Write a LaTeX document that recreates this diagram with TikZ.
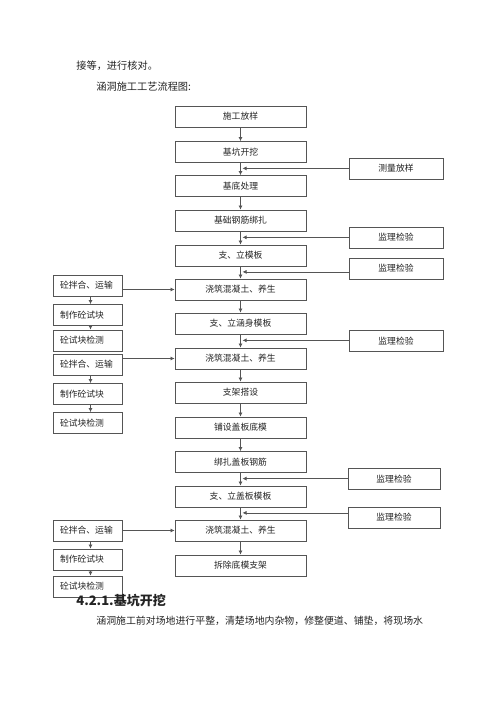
\documentclass[tikz,border=0pt]{standalone}
\usepackage{fontspec}
\newfontfamily\cjk{Noto Sans CJK SC}
\usepackage{tikz}
\usetikzlibrary{positioning}
\usetikzlibrary{arrows.meta}
\usetikzlibrary{shapes}
\definecolor{linegray}{RGB}{85,85,85}
\definecolor{textgray}{RGB}{35,35,35}
\tikzset{
        boxnode/.style={align=center,inner sep=0pt,rectangle,draw=linegray,line width=0.8pt,text=textgray,font=\cjk\fontsize{8.8}{10}\selectfont},
        % Main process steps
        node_step/.style={boxnode, minimum width=131pt, minimum height=21pt},
        % Inspection boxes on the right
        node_check/.style={boxnode, minimum width=94pt, minimum height=21pt},
        % Concrete boxes on the left
        node_mix/.style={boxnode, align=left, inner xsep=7pt, text width=55pt, minimum height=21pt},
        % Plain page text
        node_text/.style={anchor=west, inner sep=0pt, text=textgray, font=\cjk\fontsize{10.2}{12}\selectfont}
}
\begin{document}
\begin{tikzpicture}[
            x=1pt, y=-1pt,
            ->, >={Latex[length=4pt,width=4pt]},
            line width=0.7pt, draw=linegray
        ]
            \useasboundingbox (0,0) rectangle (500,706);
            \node[node_text] (line_top) at (76,66) {接等，进行核对。};
            \node[node_text] (title) at (96,87) {涵洞施工工艺流程图:};

            % main column
            \node[node_step] (step_1) at (240.5,116.5) {施工放样};
            \node[node_step] (step_2) at (240.5,152) {基坑开挖};
            \node[node_step] (step_3) at (240.5,186) {基底处理};
            \node[node_step] (step_4) at (240.5,220.5) {基础钢筋绑扎};
            \node[node_step] (step_5) at (240.5,255.5) {支、立模板};
            \node[node_step] (step_6) at (240.5,289.5) {浇筑混凝土、养生};
            \node[node_step] (step_7) at (240.5,323.5) {支、立涵身模板};
            \node[node_step] (step_8) at (240.5,358.5) {浇筑混凝土、养生};
            \node[node_step] (step_9) at (240.5,392.5) {支架搭设};
            \node[node_step] (step_10) at (240.5,427.5) {铺设盖板底模};
            \node[node_step] (step_11) at (240.5,462) {绑扎盖板钢筋};
            \node[node_step] (step_12) at (240.5,496.5) {支、立盖板模板};
            \node[node_step] (step_13) at (240.5,530.5) {浇筑混凝土、养生};
            \node[node_step] (step_14) at (240.5,565.5) {拆除底模支架};
            \foreach \a/\b in {1/2,2/3,3/4,4/5,5/6,6/7,7/8,8/9,9/10,10/11,11/12,12/13,13/14}
                \draw (step_\a.south) -- (step_\b.north) coordinate[pos=0.45] (gap_\a);

            % checks on the right
            \node[node_check] (check_1) at (396,168.5) {测量放样};
            \node[node_check] (check_2) at (396,237.5) {监理检验};
            \node[node_check] (check_3) at (396,268.5) {监理检验};
            \node[node_check] (check_4) at (396,341) {监理检验};
            \node[node_check, minimum width=92pt] (check_5) at (394,479) {监理检验};
            \node[node_check, minimum width=92pt] (check_6) at (394,517.5) {监理检验};
            \foreach \c/\g in {1/2,2/4,3/5,4/7,5/11,6/12}
                \draw (check_\c.west |- gap_\g) -- ([xshift=2pt]gap_\g);

            % concrete on the left
            \node[node_mix] (mix_1) at (87.5,285.5) {砼拌合、运输};
            \node[node_mix] (mix_2) at (87.5,315) {制作砼试块};
            \node[node_mix] (mix_3) at (87.5,340.5) {砼试块检测};
            \node[node_mix] (mix_4) at (87.5,364.5) {砼拌合、运输};
            \node[node_mix] (mix_5) at (87.5,394) {制作砼试块};
            \node[node_mix] (mix_6) at (87.5,423) {砼试块检测};
            \node[node_mix] (mix_7) at (87.5,530.5) {砼拌合、运输};
            \node[node_mix] (mix_8) at (87.5,559.5) {制作砼试块};
            \node[node_mix] (mix_9) at (87.5,586.5) {砼试块检测};
            \foreach \a/\b in {1/2,2/3,4/5,5/6,7/8,8/9}
                \draw ([xshift=3pt]mix_\a.south) -- ([xshift=3pt]mix_\b.north);
            \foreach \m/\s in {1/6,4/8,7/13}
                \draw (mix_\m.east |- step_\s.west) -- (step_\s.west);

            \node[node_text, font=\cjk\bfseries\fontsize{13}{15}\selectfont] (heading) at (76,601) {4.2.1.基坑开挖};
            \node[node_text, font=\cjk\fontsize{9.9}{12}\selectfont] (line_body) at (96,621) {涵洞施工前对场地进行平整，清楚场地内杂物，修整便道、铺垫，将现场水};
        \end{tikzpicture}
\end{document}
